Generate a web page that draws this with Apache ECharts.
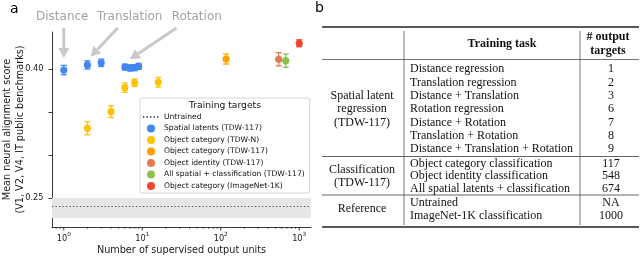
<!DOCTYPE html>
<html><head><meta charset="utf-8">
<script src="https://cdn.jsdelivr.net/npm/echarts@6/dist/echarts.min.js"></script>
<style>html,body{margin:0;padding:0;background:#fff}#c{width:640px;height:258px}</style>
</head><body><div id="c"></div>
<script>
// ---------- data (panel a) ----------
const seriesNames = ['Untrained', 'Spatial latents (TDW-117)', 'Object category (TDW-N)',
  'Object category (TDW-117)', 'Object identity (TDW-117)',
  'All spatial + classification (TDW-117)', 'Object category (ImageNet-1K)'];
const seriesColors = ['#555555', '#4287F0', '#FFC20A', '#FFA000', '#E07B53', '#8CC04B', '#F4432F'];

const spatialX = [1, 2, 3, 6, 7, 8, 9];
const spatialY = [0.3988, 0.4047, 0.4072, 0.4022, 0.4012, 0.4016, 0.4030];
const spatialErr = [0.0054, 0.0048, 0.0043, 0.0035, 0.0035, 0.0035, 0.0035];

const catNX = [2, 4, 6, 8, 16];
const catNY = [0.3310, 0.3504, 0.3783, 0.3840, 0.3845];
const catNErr = [0.0076, 0.0068, 0.0054, 0.0043, 0.0056];

const cat117X = [117];
const cat117Y = [0.4116];
const cat117Err = [0.0058];

const identX = [548];
const identY = [0.4113];
const identErr = [0.0077];

const allX = [674];
const allY = [0.4097];
const allErr = [0.0077];

const inetX = [1000];
const inetY = [0.4299];
const inetErr = [0.0040];

const untrainedMean = 0.2384;
const untrainedErr = 0.0116;

const yTickValues = [0.25, 0.30, 0.35, 0.40];
const yLabelValues = [0.25, 0.40];
const xMajorTicks = [1, 10, 100, 1000];
const xMin = 0.708, xMax = 1413, yMin = 0.2163, yMax = 0.443;

const annotationLabels = ['Distance', 'Translation', 'Rotation'];
const annotationLabelX = [0.957, 6.93, 49.5];
const annotationLabelY = 0.461;
const arrowFrom = [[1, 0.4477], [4.87, 0.4477], [27.3, 0.4477]];
const arrowTo = [[1, 0.4128], [2.19, 0.4143], [6.93, 0.4113]];

// ---------- data (panel b) ----------
const tableHeaderTask = 'Training task';
const tableHeaderTargets = ['# output', 'targets'];
const groupLabels = [['Spatial latent', 'regression', '(TDW-117)'], ['Classification', '(TDW-117)'], ['Reference']];
const spatialTasks = ['Distance regression', 'Translation regression', 'Distance + Translation',
  'Rotation regression', 'Distance + Rotation', 'Translation + Rotation', 'Distance + Translation + Rotation'];
const spatialTargets = ['1', '2', '3', '6', '7', '8', '9'];
const classTasks = ['Object category classification', 'Object identity classification', 'All spatial latents + classification'];
const classTargets = ['117', '548', '674'];
const refTasks = ['Untrained', 'ImageNet-1K classification'];
const refTargets = ['NA', '1000'];

// ---------- chart ----------
const FONT = 'DejaVu Sans';
const chart = echarts.init(document.getElementById('c'), null, {renderer: 'canvas'});

function pts(X, Y, E) { return X.map((x, i) => [x, Y[i], E[i]]); }

function errRender(params, api) {
  const x = api.value(0), y = api.value(1), e = api.value(2);
  const c = api.coord([x, y]);
  const lo = api.coord([x, y - e]);
  const hi = api.coord([x, y + e]);
  const col = api.visual('color');
  const cap = 3;
  const st = {stroke: col, lineWidth: 1.3};
  return {type: 'group', children: [
    {type: 'line', shape: {x1: c[0], y1: lo[1], x2: c[0], y2: hi[1]}, style: st},
    {type: 'line', shape: {x1: c[0] - cap, y1: lo[1], x2: c[0] + cap, y2: lo[1]}, style: st},
    {type: 'line', shape: {x1: c[0] - cap, y1: hi[1], x2: c[0] + cap, y2: hi[1]}, style: st},
    {type: 'circle', shape: {cx: c[0], cy: c[1], r: 3.6}, style: {fill: col}}
  ]};
}

function errSeries(idx, data) {
  return {type: 'custom', name: seriesNames[idx], coordinateSystem: 'cartesian2d',
    itemStyle: {color: seriesColors[idx]}, encode: {x: 0, y: 1}, data: data,
    renderItem: errRender, z: 3 + idx};
}

// tick marks on the log axis (major + minor)
const tickData = [];
for (let d = -1; d <= 3; d++) {
  for (let m = 1; m <= 9; m++) {
    const v = m * Math.pow(10, d);
    if (v >= xMin && v <= xMax) tickData.push([v, yMin, m === 1 ? 3.5 : 2]);
  }
}

const option = {
  animation: false,
  textStyle: {fontFamily: FONT},
  grid: {left: 52, right: 329, top: 32, bottom: 31, containLabel: false, outerBoundsMode: 'none'},
  xAxis: {
    type: 'log', logBase: 10, min: xMin, max: xMax,
    name: 'Number of supervised output units', nameLocation: 'middle', nameGap: 18, nameMoveOverlap: false,
    nameTextStyle: {fontSize: 9.7, color: '#222', fontFamily: FONT},
    axisLine: {onZero: false, lineStyle: {color: '#222', width: 0.9}},
    axisTick: {show: false},
    splitLine: {show: false},
    axisLabel: {
      showMinLabel: false, showMaxLabel: false, margin: 4,
      formatter: function (v) {
        const k = Math.round(Math.log10(v));
        if (Math.abs(Math.log10(v) - k) > 1e-6) return '';
        return '{b|10}{s|' + k + '}';
      },
      rich: {
        b: {fontSize: 8.2, fontFamily: FONT, color: '#222', verticalAlign: 'bottom', lineHeight: 12},
        s: {fontSize: 5.8, fontFamily: FONT, color: '#222', verticalAlign: 'top', lineHeight: 12}
      }
    }
  },
  yAxis: {
    type: 'value', min: yMin, max: yMax,
    name: 'Mean neural alignment score\n(V1, V2, V4, IT public benchmarks)',
    nameLocation: 'middle', nameGap: 25, nameRotate: 90, nameMoveOverlap: false,
    nameTextStyle: {fontSize: 9.7, color: '#222', fontFamily: FONT, lineHeight: 13},
    axisLine: {show: true, lineStyle: {color: '#222', width: 0.9}},
    axisTick: {show: true, customValues: yTickValues, length: 3.5, lineStyle: {color: '#222', width: 0.9}},
    axisLabel: {customValues: yLabelValues, formatter: v => v.toFixed(2), fontSize: 8.2, color: '#222', margin: 8.5},
    splitLine: {show: false}
  },
  legend: {
    orient: 'vertical', left: 140, top: 98,
    padding: [15, 5, 3, 2], itemGap: 3.5, itemWidth: 16, itemHeight: 8,
    backgroundColor: 'rgba(255,255,255,0.85)', borderColor: '#cccccc', borderWidth: 0.8, borderRadius: 2,
    textStyle: {fontSize: 7.6, fontFamily: FONT, color: '#111', lineHeight: 8},
    data: seriesNames.map((n, i) => i === 0
      ? {name: n, itemStyle: {opacity: 0, color: 'rgba(0,0,0,0)', borderWidth: 0}}
      : {name: n, icon: 'circle'})
  },
  series: [
    {type: 'line', name: seriesNames[0], data: [], symbol: 'none', z: 1,
      itemStyle: {color: seriesColors[0]},
      lineStyle: {type: [1.3, 2.2], color: seriesColors[0], width: 1.1},
      markLine: {silent: true, symbol: 'none', label: {show: false},
        lineStyle: {type: [1.3, 2.2], color: seriesColors[0], width: 1.1},
        data: [{yAxis: untrainedMean}]},
      markArea: {silent: true, itemStyle: {color: '#e6e6e6'},
        data: [[{yAxis: untrainedMean + untrainedErr}, {yAxis: untrainedMean - untrainedErr}]]}
    },
    errSeries(1, pts(spatialX, spatialY, spatialErr)),
    errSeries(2, pts(catNX, catNY, catNErr)),
    errSeries(3, pts(cat117X, cat117Y, cat117Err)),
    errSeries(4, pts(identX, identY, identErr)),
    errSeries(5, pts(allX, allY, allErr)),
    errSeries(6, pts(inetX, inetY, inetErr)),
    {type: 'custom', name: 'ticks', coordinateSystem: 'cartesian2d', silent: true, z: 20,
      encode: {x: 0, y: 1}, data: tickData,
      renderItem: function (params, api) {
        const p = api.coord([api.value(0), api.value(1)]);
        const len = api.value(2);
        return {type: 'line', shape: {x1: p[0], y1: p[1], x2: p[0], y2: p[1] + len},
          style: {stroke: '#222', lineWidth: len > 3 ? 0.9 : 0.6}};
      }}
  ]
};
chart.setOption(option);

// ---------- graphics: annotations, legend title, table ----------
const g = [];
g.push({type: 'text', x: 10, y: 9, z: 50, style: {text: 'a', fontSize: 14, fontFamily: FONT, fill: '#000', align: 'left', verticalAlign: 'middle', textAlign: 'left', textVerticalAlign: 'middle'}});
g.push({type: 'text', x: 315, y: 8, z: 50, style: {text: 'b', fontSize: 14, fontFamily: FONT, fill: '#000', align: 'left', verticalAlign: 'middle', textAlign: 'left', textVerticalAlign: 'middle'}});

annotationLabels.forEach((t, i) => {
  const p = chart.convertToPixel({gridIndex: 0}, [annotationLabelX[i], annotationLabelY]);
  g.push({type: 'text', x: p[0], y: p[1], z: 50, style: {text: t, fontSize: 12, fontFamily: FONT, fill: '#a3a3a3',
    align: 'center', verticalAlign: 'middle', textAlign: 'center', textVerticalAlign: 'middle'}});
  const a = chart.convertToPixel({gridIndex: 0}, arrowFrom[i]);
  const b = chart.convertToPixel({gridIndex: 0}, arrowTo[i]);
  const dx = b[0] - a[0], dy = b[1] - a[1];
  const L = Math.sqrt(dx * dx + dy * dy), ux = dx / L, uy = dy / L;
  const hl = 10, hw = 5.5;
  const bx = b[0] - ux * hl, by = b[1] - uy * hl;
  g.push({type: 'line', z: 40, shape: {x1: a[0], y1: a[1], x2: bx, y2: by}, style: {stroke: '#c9c9c9', lineWidth: 3}});
  g.push({type: 'polygon', z: 40, shape: {points: [[b[0], b[1]], [bx - uy * hw, by + ux * hw], [bx + uy * hw, by - ux * hw]]},
    style: {fill: '#c9c9c9'}});
});

g.push({type: 'text', x: 225, y: 106, z: 100, style: {text: 'Training targets', fontSize: 9.2, fontFamily: FONT, fill: '#111',
  align: 'center', verticalAlign: 'middle', textAlign: 'center', textVerticalAlign: 'middle'}});

// table
const SERIF = 'Liberation Serif';
const tL = 322, tR = 639, v1 = 404, v2 = 580;
const colTaskX = 410, colTargetX = 611, colGroupX = 362;
function hline(y, w, c) { g.push({type: 'line', z: 30, shape: {x1: tL, y1: y, x2: tR, y2: y}, style: {stroke: c, lineWidth: w}}); }
function vline(x) { g.push({type: 'line', z: 30, shape: {x1: x, y1: 31, x2: x, y2: 225}, style: {stroke: '#555', lineWidth: 0.8}}); }
function txt(t, x, y, al, bold) {
  g.push({type: 'text', x: x, y: y, z: 30, style: {text: t, fontSize: 12, fontFamily: SERIF, fontWeight: bold ? 'bold' : 'normal',
    fill: '#111', align: al, verticalAlign: 'middle', textAlign: al, textVerticalAlign: 'middle'}});
}
hline(27, 1.6, '#222');
hline(59.5, 0.9, '#666');
hline(156.5, 0.9, '#555');
hline(195, 0.9, '#555');
hline(227, 1.6, '#222');
vline(v1); vline(v2);
txt(tableHeaderTask, 502, 43.5, 'center', true);
txt(tableHeaderTargets[0], 608, 36.5, 'center', true);
txt(tableHeaderTargets[1], 608, 50.5, 'center', true);

const groups = [
  {tasks: spatialTasks, targets: spatialTargets, start: 69.3, step: 13.3},
  {tasks: classTasks, targets: classTargets, start: 163.5, step: 12.6},
  {tasks: refTasks, targets: refTargets, start: 202.5, step: 13.2}
];
groups.forEach((grp, gi) => {
  grp.tasks.forEach((t, i) => {
    const y = grp.start + i * grp.step;
    txt(t, colTaskX, y, 'left', false);
    txt(grp.targets[i], colTargetX, y, 'center', false);
  });
  const mid = grp.start + (grp.tasks.length - 1) * grp.step / 2;
  const labs = groupLabels[gi];
  labs.forEach((l, j) => {
    txt(l, colGroupX, mid + (j - (labs.length - 1) / 2) * 13.3, 'center', false);
  });
});

chart.setOption({graphic: {elements: g}});
</script>
</body></html>
